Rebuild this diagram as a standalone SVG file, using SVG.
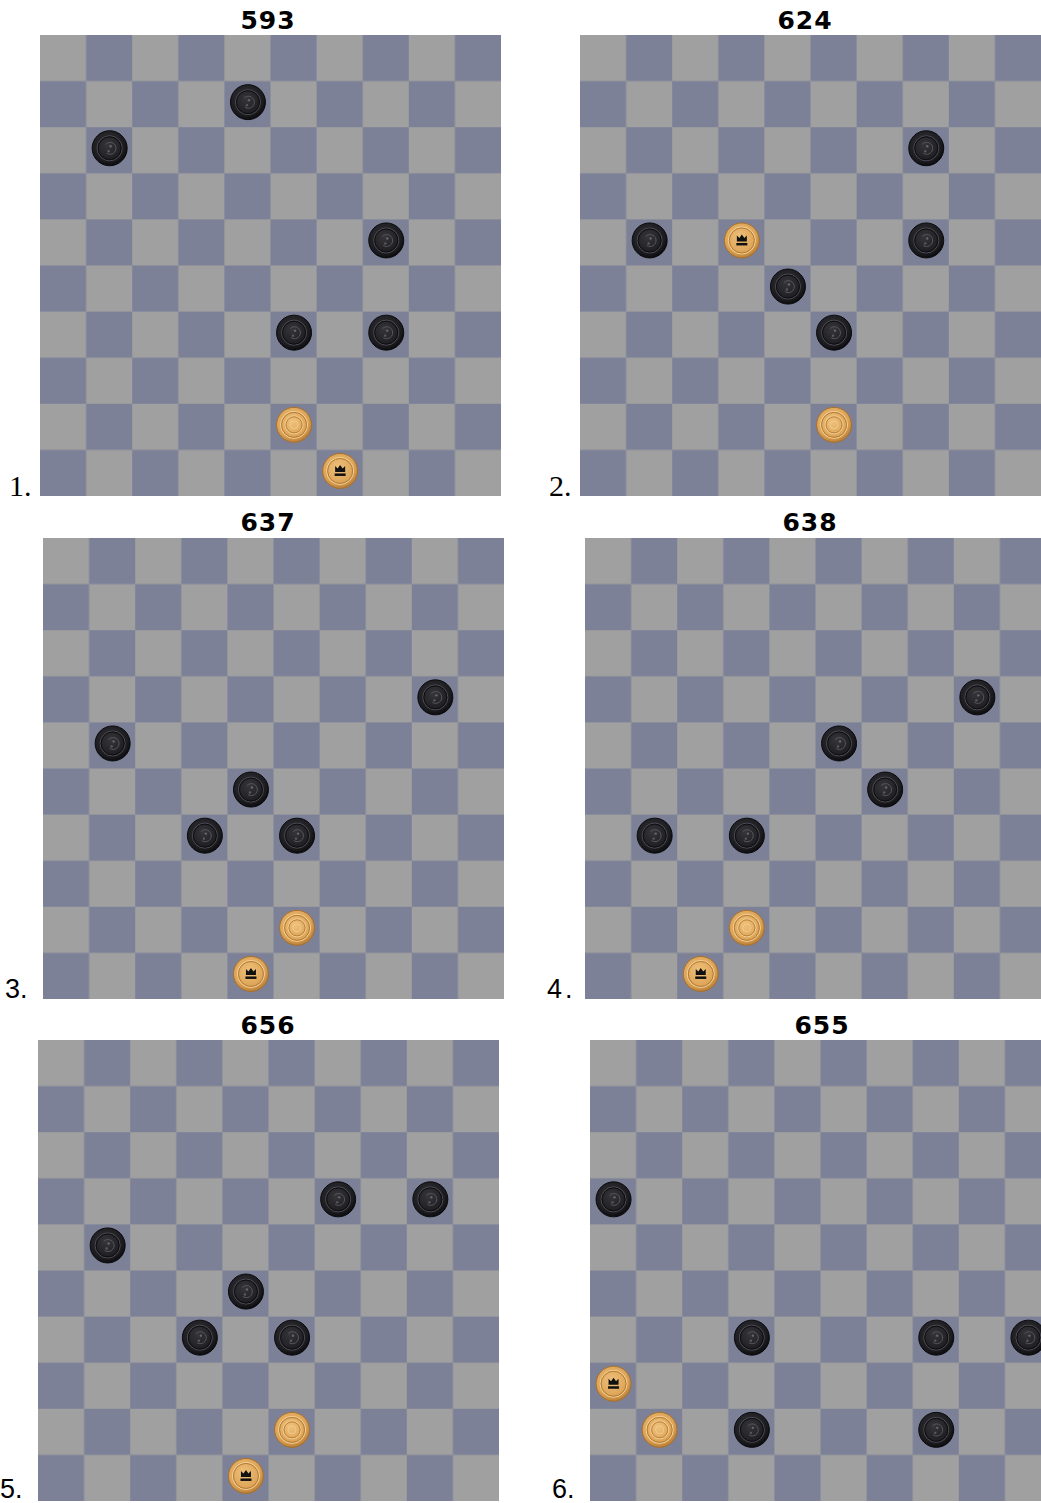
<svg xmlns="http://www.w3.org/2000/svg" xmlns:xlink="http://www.w3.org/1999/xlink" width="1041" height="1503" viewBox="0 0 1041 1503">
<style>
.t{font-family:"DejaVu Sans",Verdana,sans-serif;font-weight:bold;font-size:25px;fill:#000;text-anchor:middle;letter-spacing:1px}
.ls{font-family:"Liberation Serif","Times New Roman",serif;font-size:30px;fill:#000}
.la{font-family:"Liberation Sans",Arial,sans-serif;font-size:27px;fill:#000}
</style>
<defs>
<pattern id="chk" x="0" y="0" width="92.2" height="92.2" patternUnits="userSpaceOnUse">
<rect width="92.2" height="92.2" fill="#a0a0a0"/>
<rect x="46.1" y="0" width="46.1" height="46.1" fill="#7c8197"/>
<rect x="0" y="46.1" width="46.1" height="46.1" fill="#7c8197"/>
</pattern>
<radialGradient id="gb" cx="0.45" cy="0.4" r="0.6">
<stop offset="0" stop-color="#35353a"/>
<stop offset="0.8" stop-color="#1c1c20"/>
<stop offset="1" stop-color="#0c0c0e"/>
</radialGradient>
<radialGradient id="gw" cx="0.45" cy="0.4" r="0.6">
<stop offset="0" stop-color="#efc07a"/>
<stop offset="0.75" stop-color="#dca458"/>
<stop offset="1" stop-color="#b77d35"/>
</radialGradient>
<g id="b" transform="translate(0.5,-2)">
<circle r="17.5" fill="url(#gb)" stroke="#0a0a0c" stroke-width="1"/>
<circle r="12.5" fill="none" stroke="#4c4c54" stroke-width="1"/>
<circle r="11.5" fill="none" stroke="#0e0e10" stroke-width="1"/>
<path d="M-3,5 A6,6 0 1 0 -4,-4" fill="none" stroke="#55555e" stroke-width="1"/>
<circle cx="1" cy="-2" r="1.2" fill="#66666e"/>
<circle cx="-1" cy="3" r="1.2" fill="#5a5a62"/>
</g>
<g id="w" transform="translate(0.5,-2)">
<circle r="17.5" fill="url(#gw)" stroke="#a8702c" stroke-width="1"/>
<circle r="13.5" fill="none" stroke="#f4d49a" stroke-width="1"/>
<circle r="12.5" fill="none" stroke="#b47a33" stroke-width="1"/>
<circle r="9" fill="none" stroke="#f2d096" stroke-width="1"/>
<circle r="8" fill="none" stroke="#bb8139" stroke-width="1"/>
<circle r="4" fill="none" stroke="#efcb8e" stroke-width="1"/>
</g>
<g id="k" transform="translate(0.5,-2)">
<circle r="17.5" fill="url(#gw)" stroke="#a8702c" stroke-width="1"/>
<circle r="13.5" fill="none" stroke="#f4d49a" stroke-width="1"/>
<circle r="12.5" fill="none" stroke="#b47a33" stroke-width="1"/>
<path d="M-5,1 L-5,-5 L-2.5,-2.5 L0,-6 L2.5,-2.5 L5,-5 L5,1 Z" fill="#111"/>
<rect x="-5.5" y="2.5" width="11" height="2.5" fill="#111"/>
</g>
</defs>
<rect width="1041" height="1503" fill="#fff"/>

<g id="board1" transform="translate(40,35)">
<rect width="461" height="461" fill="url(#chk)"/>
<use href="#b" x="207.45" y="69.15"/>
<use href="#b" x="69.15" y="115.25"/>
<use href="#b" x="345.75" y="207.45"/>
<use href="#b" x="253.55" y="299.65"/>
<use href="#b" x="345.75" y="299.65"/>
<use href="#w" x="253.55" y="391.85"/>
<use href="#k" x="299.65" y="437.95"/>
</g>
<g id="board2" transform="translate(580,35)">
<rect width="461" height="461" fill="url(#chk)"/>
<use href="#b" x="345.75" y="115.25"/>
<use href="#b" x="69.15" y="207.45"/>
<use href="#k" x="161.35" y="207.45"/>
<use href="#b" x="345.75" y="207.45"/>
<use href="#b" x="207.45" y="253.55"/>
<use href="#b" x="253.55" y="299.65"/>
<use href="#w" x="253.55" y="391.85"/>
</g>
<g id="board3" transform="translate(43,538)">
<rect width="461" height="461" fill="url(#chk)"/>
<use href="#b" x="391.85" y="161.35"/>
<use href="#b" x="69.15" y="207.45"/>
<use href="#b" x="207.45" y="253.55"/>
<use href="#b" x="161.35" y="299.65"/>
<use href="#b" x="253.55" y="299.65"/>
<use href="#w" x="253.55" y="391.85"/>
<use href="#k" x="207.45" y="437.95"/>
</g>
<g id="board4" transform="translate(585,538)">
<rect width="461" height="461" fill="url(#chk)"/>
<use href="#b" x="391.85" y="161.35"/>
<use href="#b" x="253.55" y="207.45"/>
<use href="#b" x="299.65" y="253.55"/>
<use href="#b" x="69.15" y="299.65"/>
<use href="#b" x="161.35" y="299.65"/>
<use href="#w" x="161.35" y="391.85"/>
<use href="#k" x="115.25" y="437.95"/>
</g>
<g id="board5" transform="translate(38,1040)">
<rect width="461" height="461" fill="url(#chk)"/>
<use href="#b" x="299.65" y="161.35"/>
<use href="#b" x="391.85" y="161.35"/>
<use href="#b" x="69.15" y="207.45"/>
<use href="#b" x="207.45" y="253.55"/>
<use href="#b" x="161.35" y="299.65"/>
<use href="#b" x="253.55" y="299.65"/>
<use href="#w" x="253.55" y="391.85"/>
<use href="#k" x="207.45" y="437.95"/>
</g>
<g id="board6" transform="translate(590,1040)">
<rect width="461" height="461" fill="url(#chk)"/>
<use href="#b" x="23.05" y="161.35"/>
<use href="#b" x="161.35" y="299.65"/>
<use href="#b" x="345.75" y="299.65"/>
<use href="#b" x="437.95" y="299.65"/>
<use href="#k" x="23.05" y="345.75"/>
<use href="#w" x="69.15" y="391.85"/>
<use href="#b" x="161.35" y="391.85"/>
<use href="#b" x="345.75" y="391.85"/>
</g>

<g id="titles">
<text class="t" x="268" y="29">593</text>
<text class="t" x="805" y="29">624</text>
<text class="t" x="268" y="531">637</text>
<text class="t" x="810" y="531">638</text>
<text class="t" x="268" y="1034">656</text>
<text class="t" x="822" y="1034">655</text>
</g>
<g id="labels">
<text class="ls" x="9" y="496">1.</text>
<text class="ls" x="549" y="496">2.</text>
<text class="la" x="5" y="998">3.</text>
<text class="la" x="547" y="998" letter-spacing="3">4.</text>
<text class="la" x="0" y="1498">5.</text>
<text class="la" x="552" y="1498">6.</text>
</g>
</svg>
